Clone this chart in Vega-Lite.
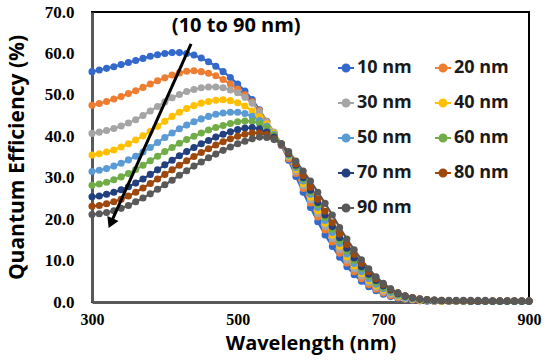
{
  "$schema": "https://vega.github.io/schema/vega-lite/v6.json",
  "width": 437,
  "height": 290,
  "autosize": {"type": "none"},
  "padding": {"left": 92, "top": 12, "right": 21, "bottom": 58},
  "background": "white",
  "config": {
    "view": {"stroke": "#000000", "strokeWidth": 2},
    "axis": {"grid": false, "ticks": false, "labelFlush": false, "domainColor": "#595959", "domainWidth": 3, "labelColor": "#000000", "titleColor": "#000000"}
  },
  "data": {"values": [
{"t":"10 nm","w":300,"q":55.6},{"t":"10 nm","w":310,"q":56.0},{"t":"10 nm","w":320,"q":56.4},{"t":"10 nm","w":330,"q":56.8},{"t":"10 nm","w":340,"q":57.3},{"t":"10 nm","w":350,"q":57.8},{"t":"10 nm","w":360,"q":58.3},{"t":"10 nm","w":370,"q":58.8},{"t":"10 nm","w":380,"q":59.3},{"t":"10 nm","w":390,"q":59.7},{"t":"10 nm","w":400,"q":60.0},{"t":"10 nm","w":410,"q":60.2},{"t":"10 nm","w":420,"q":60.2},{"t":"10 nm","w":430,"q":60.0},{"t":"10 nm","w":440,"q":59.6},{"t":"10 nm","w":450,"q":58.9},{"t":"10 nm","w":460,"q":58.0},{"t":"10 nm","w":470,"q":56.9},{"t":"10 nm","w":480,"q":55.6},{"t":"10 nm","w":490,"q":54.2},{"t":"10 nm","w":500,"q":52.6},{"t":"10 nm","w":510,"q":50.9},{"t":"10 nm","w":520,"q":48.9},{"t":"10 nm","w":530,"q":46.4},{"t":"10 nm","w":540,"q":43.6},{"t":"10 nm","w":550,"q":40.8},{"t":"10 nm","w":560,"q":37.8},{"t":"10 nm","w":570,"q":34.2},{"t":"10 nm","w":580,"q":30.3},{"t":"10 nm","w":590,"q":26.5},{"t":"10 nm","w":600,"q":22.8},{"t":"10 nm","w":610,"q":19.4},{"t":"10 nm","w":620,"q":16.2},{"t":"10 nm","w":630,"q":13.4},{"t":"10 nm","w":640,"q":10.8},{"t":"10 nm","w":650,"q":8.5},{"t":"10 nm","w":660,"q":6.6},{"t":"10 nm","w":670,"q":5.0},{"t":"10 nm","w":680,"q":3.7},{"t":"10 nm","w":690,"q":2.7},{"t":"10 nm","w":700,"q":1.9},{"t":"10 nm","w":710,"q":1.3},{"t":"10 nm","w":720,"q":0.9},{"t":"10 nm","w":730,"q":0.6},{"t":"10 nm","w":740,"q":0.4},{"t":"10 nm","w":750,"q":0.3},{"t":"10 nm","w":760,"q":0.2},{"t":"10 nm","w":770,"q":0.2},{"t":"10 nm","w":780,"q":0.2},{"t":"10 nm","w":790,"q":0.2},{"t":"10 nm","w":800,"q":0.2},{"t":"10 nm","w":810,"q":0.2},{"t":"10 nm","w":820,"q":0.2},{"t":"10 nm","w":830,"q":0.2},{"t":"10 nm","w":840,"q":0.2},{"t":"10 nm","w":850,"q":0.2},{"t":"10 nm","w":860,"q":0.2},{"t":"10 nm","w":870,"q":0.2},{"t":"10 nm","w":880,"q":0.2},{"t":"10 nm","w":890,"q":0.2},{"t":"10 nm","w":900,"q":0.2},
{"t":"20 nm","w":300,"q":47.5},{"t":"20 nm","w":310,"q":47.9},{"t":"20 nm","w":320,"q":48.4},{"t":"20 nm","w":330,"q":49.0},{"t":"20 nm","w":340,"q":49.6},{"t":"20 nm","w":350,"q":50.3},{"t":"20 nm","w":360,"q":51.0},{"t":"20 nm","w":370,"q":51.8},{"t":"20 nm","w":380,"q":52.6},{"t":"20 nm","w":390,"q":53.4},{"t":"20 nm","w":400,"q":54.1},{"t":"20 nm","w":410,"q":54.8},{"t":"20 nm","w":420,"q":55.3},{"t":"20 nm","w":430,"q":55.7},{"t":"20 nm","w":440,"q":55.8},{"t":"20 nm","w":450,"q":55.6},{"t":"20 nm","w":460,"q":55.2},{"t":"20 nm","w":470,"q":54.6},{"t":"20 nm","w":480,"q":53.7},{"t":"20 nm","w":490,"q":52.6},{"t":"20 nm","w":500,"q":51.4},{"t":"20 nm","w":510,"q":50.0},{"t":"20 nm","w":520,"q":48.3},{"t":"20 nm","w":530,"q":46.2},{"t":"20 nm","w":540,"q":43.6},{"t":"20 nm","w":550,"q":40.8},{"t":"20 nm","w":560,"q":37.9},{"t":"20 nm","w":570,"q":34.6},{"t":"20 nm","w":580,"q":31.0},{"t":"20 nm","w":590,"q":27.4},{"t":"20 nm","w":600,"q":23.9},{"t":"20 nm","w":610,"q":20.5},{"t":"20 nm","w":620,"q":17.4},{"t":"20 nm","w":630,"q":14.5},{"t":"20 nm","w":640,"q":11.8},{"t":"20 nm","w":650,"q":9.4},{"t":"20 nm","w":660,"q":7.3},{"t":"20 nm","w":670,"q":5.6},{"t":"20 nm","w":680,"q":4.2},{"t":"20 nm","w":690,"q":3.1},{"t":"20 nm","w":700,"q":2.2},{"t":"20 nm","w":710,"q":1.5},{"t":"20 nm","w":720,"q":1.0},{"t":"20 nm","w":730,"q":0.7},{"t":"20 nm","w":740,"q":0.5},{"t":"20 nm","w":750,"q":0.3},{"t":"20 nm","w":760,"q":0.3},{"t":"20 nm","w":770,"q":0.2},{"t":"20 nm","w":780,"q":0.2},{"t":"20 nm","w":790,"q":0.2},{"t":"20 nm","w":800,"q":0.2},{"t":"20 nm","w":810,"q":0.2},{"t":"20 nm","w":820,"q":0.2},{"t":"20 nm","w":830,"q":0.2},{"t":"20 nm","w":840,"q":0.2},{"t":"20 nm","w":850,"q":0.2},{"t":"20 nm","w":860,"q":0.2},{"t":"20 nm","w":870,"q":0.2},{"t":"20 nm","w":880,"q":0.2},{"t":"20 nm","w":890,"q":0.2},{"t":"20 nm","w":900,"q":0.2},
{"t":"30 nm","w":300,"q":40.7},{"t":"30 nm","w":310,"q":41.0},{"t":"30 nm","w":320,"q":41.4},{"t":"30 nm","w":330,"q":41.9},{"t":"30 nm","w":340,"q":42.5},{"t":"30 nm","w":350,"q":43.2},{"t":"30 nm","w":360,"q":44.0},{"t":"30 nm","w":370,"q":45.0},{"t":"30 nm","w":380,"q":46.1},{"t":"30 nm","w":390,"q":47.2},{"t":"30 nm","w":400,"q":48.3},{"t":"30 nm","w":410,"q":49.3},{"t":"30 nm","w":420,"q":50.1},{"t":"30 nm","w":430,"q":50.8},{"t":"30 nm","w":440,"q":51.3},{"t":"30 nm","w":450,"q":51.7},{"t":"30 nm","w":460,"q":51.9},{"t":"30 nm","w":470,"q":51.9},{"t":"30 nm","w":480,"q":51.7},{"t":"30 nm","w":490,"q":51.2},{"t":"30 nm","w":500,"q":50.5},{"t":"30 nm","w":510,"q":49.4},{"t":"30 nm","w":520,"q":48.0},{"t":"30 nm","w":530,"q":45.9},{"t":"30 nm","w":540,"q":43.5},{"t":"30 nm","w":550,"q":41.0},{"t":"30 nm","w":560,"q":38.2},{"t":"30 nm","w":570,"q":35.0},{"t":"30 nm","w":580,"q":31.5},{"t":"30 nm","w":590,"q":28.0},{"t":"30 nm","w":600,"q":24.6},{"t":"30 nm","w":610,"q":21.3},{"t":"30 nm","w":620,"q":18.2},{"t":"30 nm","w":630,"q":15.3},{"t":"30 nm","w":640,"q":12.6},{"t":"30 nm","w":650,"q":10.1},{"t":"30 nm","w":660,"q":8.0},{"t":"30 nm","w":670,"q":6.2},{"t":"30 nm","w":680,"q":4.7},{"t":"30 nm","w":690,"q":3.5},{"t":"30 nm","w":700,"q":2.5},{"t":"30 nm","w":710,"q":1.8},{"t":"30 nm","w":720,"q":1.2},{"t":"30 nm","w":730,"q":0.8},{"t":"30 nm","w":740,"q":0.6},{"t":"30 nm","w":750,"q":0.4},{"t":"30 nm","w":760,"q":0.3},{"t":"30 nm","w":770,"q":0.2},{"t":"30 nm","w":780,"q":0.2},{"t":"30 nm","w":790,"q":0.2},{"t":"30 nm","w":800,"q":0.2},{"t":"30 nm","w":810,"q":0.2},{"t":"30 nm","w":820,"q":0.2},{"t":"30 nm","w":830,"q":0.2},{"t":"30 nm","w":840,"q":0.2},{"t":"30 nm","w":850,"q":0.2},{"t":"30 nm","w":860,"q":0.2},{"t":"30 nm","w":870,"q":0.2},{"t":"30 nm","w":880,"q":0.2},{"t":"30 nm","w":890,"q":0.2},{"t":"30 nm","w":900,"q":0.2},
{"t":"40 nm","w":300,"q":35.5},{"t":"40 nm","w":310,"q":35.8},{"t":"40 nm","w":320,"q":36.2},{"t":"40 nm","w":330,"q":36.7},{"t":"40 nm","w":340,"q":37.4},{"t":"40 nm","w":350,"q":38.2},{"t":"40 nm","w":360,"q":39.1},{"t":"40 nm","w":370,"q":40.1},{"t":"40 nm","w":380,"q":41.2},{"t":"40 nm","w":390,"q":42.4},{"t":"40 nm","w":400,"q":43.6},{"t":"40 nm","w":410,"q":44.8},{"t":"40 nm","w":420,"q":45.8},{"t":"40 nm","w":430,"q":46.7},{"t":"40 nm","w":440,"q":47.4},{"t":"40 nm","w":450,"q":48.0},{"t":"40 nm","w":460,"q":48.4},{"t":"40 nm","w":470,"q":48.7},{"t":"40 nm","w":480,"q":48.8},{"t":"40 nm","w":490,"q":48.6},{"t":"40 nm","w":500,"q":48.1},{"t":"40 nm","w":510,"q":47.3},{"t":"40 nm","w":520,"q":46.1},{"t":"40 nm","w":530,"q":44.7},{"t":"40 nm","w":540,"q":43.0},{"t":"40 nm","w":550,"q":40.8},{"t":"40 nm","w":560,"q":38.2},{"t":"40 nm","w":570,"q":35.2},{"t":"40 nm","w":580,"q":32.0},{"t":"40 nm","w":590,"q":28.6},{"t":"40 nm","w":600,"q":25.3},{"t":"40 nm","w":610,"q":22.0},{"t":"40 nm","w":620,"q":19.0},{"t":"40 nm","w":630,"q":16.1},{"t":"40 nm","w":640,"q":13.4},{"t":"40 nm","w":650,"q":10.9},{"t":"40 nm","w":660,"q":8.7},{"t":"40 nm","w":670,"q":6.8},{"t":"40 nm","w":680,"q":5.2},{"t":"40 nm","w":690,"q":3.9},{"t":"40 nm","w":700,"q":2.9},{"t":"40 nm","w":710,"q":2.1},{"t":"40 nm","w":720,"q":1.4},{"t":"40 nm","w":730,"q":1.0},{"t":"40 nm","w":740,"q":0.7},{"t":"40 nm","w":750,"q":0.5},{"t":"40 nm","w":760,"q":0.4},{"t":"40 nm","w":770,"q":0.3},{"t":"40 nm","w":780,"q":0.2},{"t":"40 nm","w":790,"q":0.2},{"t":"40 nm","w":800,"q":0.2},{"t":"40 nm","w":810,"q":0.2},{"t":"40 nm","w":820,"q":0.2},{"t":"40 nm","w":830,"q":0.2},{"t":"40 nm","w":840,"q":0.2},{"t":"40 nm","w":850,"q":0.2},{"t":"40 nm","w":860,"q":0.2},{"t":"40 nm","w":870,"q":0.2},{"t":"40 nm","w":880,"q":0.2},{"t":"40 nm","w":890,"q":0.2},{"t":"40 nm","w":900,"q":0.2},
{"t":"50 nm","w":300,"q":31.5},{"t":"50 nm","w":310,"q":31.8},{"t":"50 nm","w":320,"q":32.2},{"t":"50 nm","w":330,"q":32.8},{"t":"50 nm","w":340,"q":33.5},{"t":"50 nm","w":350,"q":34.3},{"t":"50 nm","w":360,"q":35.2},{"t":"50 nm","w":370,"q":36.2},{"t":"50 nm","w":380,"q":37.3},{"t":"50 nm","w":390,"q":38.5},{"t":"50 nm","w":400,"q":39.7},{"t":"50 nm","w":410,"q":40.8},{"t":"50 nm","w":420,"q":41.8},{"t":"50 nm","w":430,"q":42.7},{"t":"50 nm","w":440,"q":43.5},{"t":"50 nm","w":450,"q":44.2},{"t":"50 nm","w":460,"q":44.8},{"t":"50 nm","w":470,"q":45.3},{"t":"50 nm","w":480,"q":45.6},{"t":"50 nm","w":490,"q":45.8},{"t":"50 nm","w":500,"q":45.8},{"t":"50 nm","w":510,"q":45.5},{"t":"50 nm","w":520,"q":44.8},{"t":"50 nm","w":530,"q":43.8},{"t":"50 nm","w":540,"q":42.4},{"t":"50 nm","w":550,"q":40.5},{"t":"50 nm","w":560,"q":38.1},{"t":"50 nm","w":570,"q":35.4},{"t":"50 nm","w":580,"q":32.4},{"t":"50 nm","w":590,"q":29.2},{"t":"50 nm","w":600,"q":26.0},{"t":"50 nm","w":610,"q":22.8},{"t":"50 nm","w":620,"q":19.7},{"t":"50 nm","w":630,"q":16.8},{"t":"50 nm","w":640,"q":14.1},{"t":"50 nm","w":650,"q":11.6},{"t":"50 nm","w":660,"q":9.3},{"t":"50 nm","w":670,"q":7.3},{"t":"50 nm","w":680,"q":5.6},{"t":"50 nm","w":690,"q":4.3},{"t":"50 nm","w":700,"q":3.2},{"t":"50 nm","w":710,"q":2.3},{"t":"50 nm","w":720,"q":1.6},{"t":"50 nm","w":730,"q":1.1},{"t":"50 nm","w":740,"q":0.8},{"t":"50 nm","w":750,"q":0.6},{"t":"50 nm","w":760,"q":0.4},{"t":"50 nm","w":770,"q":0.3},{"t":"50 nm","w":780,"q":0.3},{"t":"50 nm","w":790,"q":0.2},{"t":"50 nm","w":800,"q":0.2},{"t":"50 nm","w":810,"q":0.2},{"t":"50 nm","w":820,"q":0.2},{"t":"50 nm","w":830,"q":0.2},{"t":"50 nm","w":840,"q":0.2},{"t":"50 nm","w":850,"q":0.2},{"t":"50 nm","w":860,"q":0.2},{"t":"50 nm","w":870,"q":0.2},{"t":"50 nm","w":880,"q":0.2},{"t":"50 nm","w":890,"q":0.2},{"t":"50 nm","w":900,"q":0.2},
{"t":"60 nm","w":300,"q":28.2},{"t":"60 nm","w":310,"q":28.5},{"t":"60 nm","w":320,"q":28.9},{"t":"60 nm","w":330,"q":29.5},{"t":"60 nm","w":340,"q":30.2},{"t":"60 nm","w":350,"q":31.0},{"t":"60 nm","w":360,"q":32.0},{"t":"60 nm","w":370,"q":33.0},{"t":"60 nm","w":380,"q":34.1},{"t":"60 nm","w":390,"q":35.2},{"t":"60 nm","w":400,"q":36.3},{"t":"60 nm","w":410,"q":37.3},{"t":"60 nm","w":420,"q":38.3},{"t":"60 nm","w":430,"q":39.2},{"t":"60 nm","w":440,"q":40.0},{"t":"60 nm","w":450,"q":40.8},{"t":"60 nm","w":460,"q":41.5},{"t":"60 nm","w":470,"q":42.1},{"t":"60 nm","w":480,"q":42.6},{"t":"60 nm","w":490,"q":43.1},{"t":"60 nm","w":500,"q":43.5},{"t":"60 nm","w":510,"q":43.7},{"t":"60 nm","w":520,"q":43.6},{"t":"60 nm","w":530,"q":43.1},{"t":"60 nm","w":540,"q":42.0},{"t":"60 nm","w":550,"q":40.3},{"t":"60 nm","w":560,"q":38.2},{"t":"60 nm","w":570,"q":35.6},{"t":"60 nm","w":580,"q":32.7},{"t":"60 nm","w":590,"q":29.6},{"t":"60 nm","w":600,"q":26.5},{"t":"60 nm","w":610,"q":23.4},{"t":"60 nm","w":620,"q":20.4},{"t":"60 nm","w":630,"q":17.5},{"t":"60 nm","w":640,"q":14.8},{"t":"60 nm","w":650,"q":12.3},{"t":"60 nm","w":660,"q":10.0},{"t":"60 nm","w":670,"q":8.0},{"t":"60 nm","w":680,"q":6.2},{"t":"60 nm","w":690,"q":4.7},{"t":"60 nm","w":700,"q":3.5},{"t":"60 nm","w":710,"q":2.6},{"t":"60 nm","w":720,"q":1.8},{"t":"60 nm","w":730,"q":1.3},{"t":"60 nm","w":740,"q":0.9},{"t":"60 nm","w":750,"q":0.6},{"t":"60 nm","w":760,"q":0.5},{"t":"60 nm","w":770,"q":0.4},{"t":"60 nm","w":780,"q":0.3},{"t":"60 nm","w":790,"q":0.3},{"t":"60 nm","w":800,"q":0.3},{"t":"60 nm","w":810,"q":0.2},{"t":"60 nm","w":820,"q":0.2},{"t":"60 nm","w":830,"q":0.2},{"t":"60 nm","w":840,"q":0.2},{"t":"60 nm","w":850,"q":0.2},{"t":"60 nm","w":860,"q":0.2},{"t":"60 nm","w":870,"q":0.2},{"t":"60 nm","w":880,"q":0.2},{"t":"60 nm","w":890,"q":0.2},{"t":"60 nm","w":900,"q":0.2},
{"t":"70 nm","w":300,"q":25.4},{"t":"70 nm","w":310,"q":25.6},{"t":"70 nm","w":320,"q":26.0},{"t":"70 nm","w":330,"q":26.5},{"t":"70 nm","w":340,"q":27.1},{"t":"70 nm","w":350,"q":27.8},{"t":"70 nm","w":360,"q":28.7},{"t":"70 nm","w":370,"q":29.7},{"t":"70 nm","w":380,"q":30.8},{"t":"70 nm","w":390,"q":31.9},{"t":"70 nm","w":400,"q":33.1},{"t":"70 nm","w":410,"q":34.2},{"t":"70 nm","w":420,"q":35.3},{"t":"70 nm","w":430,"q":36.3},{"t":"70 nm","w":440,"q":37.3},{"t":"70 nm","w":450,"q":38.2},{"t":"70 nm","w":460,"q":39.0},{"t":"70 nm","w":470,"q":39.8},{"t":"70 nm","w":480,"q":40.5},{"t":"70 nm","w":490,"q":41.1},{"t":"70 nm","w":500,"q":41.6},{"t":"70 nm","w":510,"q":42.0},{"t":"70 nm","w":520,"q":42.1},{"t":"70 nm","w":530,"q":41.8},{"t":"70 nm","w":540,"q":41.0},{"t":"70 nm","w":550,"q":39.8},{"t":"70 nm","w":560,"q":38.1},{"t":"70 nm","w":570,"q":35.8},{"t":"70 nm","w":580,"q":33.0},{"t":"70 nm","w":590,"q":30.0},{"t":"70 nm","w":600,"q":27.0},{"t":"70 nm","w":610,"q":24.0},{"t":"70 nm","w":620,"q":21.0},{"t":"70 nm","w":630,"q":18.2},{"t":"70 nm","w":640,"q":15.5},{"t":"70 nm","w":650,"q":13.0},{"t":"70 nm","w":660,"q":10.6},{"t":"70 nm","w":670,"q":8.5},{"t":"70 nm","w":680,"q":6.7},{"t":"70 nm","w":690,"q":5.2},{"t":"70 nm","w":700,"q":3.9},{"t":"70 nm","w":710,"q":2.9},{"t":"70 nm","w":720,"q":2.0},{"t":"70 nm","w":730,"q":1.4},{"t":"70 nm","w":740,"q":1.0},{"t":"70 nm","w":750,"q":0.7},{"t":"70 nm","w":760,"q":0.5},{"t":"70 nm","w":770,"q":0.4},{"t":"70 nm","w":780,"q":0.3},{"t":"70 nm","w":790,"q":0.3},{"t":"70 nm","w":800,"q":0.3},{"t":"70 nm","w":810,"q":0.3},{"t":"70 nm","w":820,"q":0.2},{"t":"70 nm","w":830,"q":0.2},{"t":"70 nm","w":840,"q":0.2},{"t":"70 nm","w":850,"q":0.2},{"t":"70 nm","w":860,"q":0.2},{"t":"70 nm","w":870,"q":0.2},{"t":"70 nm","w":880,"q":0.2},{"t":"70 nm","w":890,"q":0.2},{"t":"70 nm","w":900,"q":0.2},
{"t":"80 nm","w":300,"q":23.1},{"t":"80 nm","w":310,"q":23.3},{"t":"80 nm","w":320,"q":23.7},{"t":"80 nm","w":330,"q":24.2},{"t":"80 nm","w":340,"q":24.8},{"t":"80 nm","w":350,"q":25.6},{"t":"80 nm","w":360,"q":26.5},{"t":"80 nm","w":370,"q":27.5},{"t":"80 nm","w":380,"q":28.6},{"t":"80 nm","w":390,"q":29.7},{"t":"80 nm","w":400,"q":30.8},{"t":"80 nm","w":410,"q":31.9},{"t":"80 nm","w":420,"q":33.0},{"t":"80 nm","w":430,"q":34.1},{"t":"80 nm","w":440,"q":35.1},{"t":"80 nm","w":450,"q":36.1},{"t":"80 nm","w":460,"q":37.0},{"t":"80 nm","w":470,"q":37.9},{"t":"80 nm","w":480,"q":38.7},{"t":"80 nm","w":490,"q":39.4},{"t":"80 nm","w":500,"q":40.0},{"t":"80 nm","w":510,"q":40.5},{"t":"80 nm","w":520,"q":40.8},{"t":"80 nm","w":530,"q":40.8},{"t":"80 nm","w":540,"q":40.4},{"t":"80 nm","w":550,"q":39.4},{"t":"80 nm","w":560,"q":38.1},{"t":"80 nm","w":570,"q":36.0},{"t":"80 nm","w":580,"q":33.3},{"t":"80 nm","w":590,"q":30.5},{"t":"80 nm","w":600,"q":27.7},{"t":"80 nm","w":610,"q":24.8},{"t":"80 nm","w":620,"q":21.9},{"t":"80 nm","w":630,"q":19.1},{"t":"80 nm","w":640,"q":16.4},{"t":"80 nm","w":650,"q":13.9},{"t":"80 nm","w":660,"q":11.5},{"t":"80 nm","w":670,"q":9.3},{"t":"80 nm","w":680,"q":7.3},{"t":"80 nm","w":690,"q":5.6},{"t":"80 nm","w":700,"q":4.2},{"t":"80 nm","w":710,"q":3.1},{"t":"80 nm","w":720,"q":2.2},{"t":"80 nm","w":730,"q":1.5},{"t":"80 nm","w":740,"q":1.1},{"t":"80 nm","w":750,"q":0.8},{"t":"80 nm","w":760,"q":0.6},{"t":"80 nm","w":770,"q":0.5},{"t":"80 nm","w":780,"q":0.4},{"t":"80 nm","w":790,"q":0.3},{"t":"80 nm","w":800,"q":0.3},{"t":"80 nm","w":810,"q":0.3},{"t":"80 nm","w":820,"q":0.3},{"t":"80 nm","w":830,"q":0.3},{"t":"80 nm","w":840,"q":0.3},{"t":"80 nm","w":850,"q":0.3},{"t":"80 nm","w":860,"q":0.3},{"t":"80 nm","w":870,"q":0.3},{"t":"80 nm","w":880,"q":0.3},{"t":"80 nm","w":890,"q":0.3},{"t":"80 nm","w":900,"q":0.3},
{"t":"90 nm","w":300,"q":21.1},{"t":"90 nm","w":310,"q":21.3},{"t":"90 nm","w":320,"q":21.6},{"t":"90 nm","w":330,"q":22.0},{"t":"90 nm","w":340,"q":22.6},{"t":"90 nm","w":350,"q":23.3},{"t":"90 nm","w":360,"q":24.2},{"t":"90 nm","w":370,"q":25.1},{"t":"90 nm","w":380,"q":26.1},{"t":"90 nm","w":390,"q":27.2},{"t":"90 nm","w":400,"q":28.3},{"t":"90 nm","w":410,"q":29.4},{"t":"90 nm","w":420,"q":30.6},{"t":"90 nm","w":430,"q":31.7},{"t":"90 nm","w":440,"q":32.8},{"t":"90 nm","w":450,"q":33.8},{"t":"90 nm","w":460,"q":34.8},{"t":"90 nm","w":470,"q":35.7},{"t":"90 nm","w":480,"q":36.6},{"t":"90 nm","w":490,"q":37.4},{"t":"90 nm","w":500,"q":38.2},{"t":"90 nm","w":510,"q":38.8},{"t":"90 nm","w":520,"q":39.4},{"t":"90 nm","w":530,"q":39.8},{"t":"90 nm","w":540,"q":39.7},{"t":"90 nm","w":550,"q":39.2},{"t":"90 nm","w":560,"q":38.2},{"t":"90 nm","w":570,"q":36.3},{"t":"90 nm","w":580,"q":34.0},{"t":"90 nm","w":590,"q":31.6},{"t":"90 nm","w":600,"q":29.2},{"t":"90 nm","w":610,"q":26.5},{"t":"90 nm","w":620,"q":23.8},{"t":"90 nm","w":630,"q":21.0},{"t":"90 nm","w":640,"q":18.0},{"t":"90 nm","w":650,"q":15.2},{"t":"90 nm","w":660,"q":12.6},{"t":"90 nm","w":670,"q":10.2},{"t":"90 nm","w":680,"q":8.0},{"t":"90 nm","w":690,"q":6.1},{"t":"90 nm","w":700,"q":4.5},{"t":"90 nm","w":710,"q":3.2},{"t":"90 nm","w":720,"q":2.2},{"t":"90 nm","w":730,"q":1.5},{"t":"90 nm","w":740,"q":1.0},{"t":"90 nm","w":750,"q":0.7},{"t":"90 nm","w":760,"q":0.6},{"t":"90 nm","w":770,"q":0.5},{"t":"90 nm","w":780,"q":0.4},{"t":"90 nm","w":790,"q":0.4},{"t":"90 nm","w":800,"q":0.4},{"t":"90 nm","w":810,"q":0.4},{"t":"90 nm","w":820,"q":0.4},{"t":"90 nm","w":830,"q":0.4},{"t":"90 nm","w":840,"q":0.4},{"t":"90 nm","w":850,"q":0.3},{"t":"90 nm","w":860,"q":0.3},{"t":"90 nm","w":870,"q":0.3},{"t":"90 nm","w":880,"q":0.3},{"t":"90 nm","w":890,"q":0.3},{"t":"90 nm","w":900,"q":0.3}
  ]},
  "layer": [
    {
      "mark": {"type": "line", "strokeWidth": 2.25, "point": {"filled": true, "size": 50, "opacity": 1}},
      "encoding": {
        "x": {"field": "w", "type": "quantitative", "scale": {"domain": [300, 900], "nice": false},
              "axis": {"values": [300, 500, 700, 900], "title": "Wavelength (nm)", "labelFont": "Liberation Serif", "labelFontWeight": "bold", "labelFontSize": 16, "labelPadding": 9,
                       "titleFont": "Open Sans", "titleFontWeight": "bold", "titleFontSize": 20, "titlePadding": 6}},
        "y": {"field": "q", "type": "quantitative", "scale": {"domain": [0, 70], "nice": false},
              "axis": {"values": [0, 10, 20, 30, 40, 50, 60, 70], "format": ".1f", "title": "Quantum Efficiency (%)", "labelFont": "Liberation Serif", "labelFontWeight": "bold", "labelFontSize": 17, "labelPadding": 18,
                       "titleFont": "Open Sans", "titleFontWeight": "bold", "titleFontSize": 21, "titlePadding": 17}},
        "color": {"field": "t", "type": "nominal",
                  "scale": {"domain": ["10 nm","20 nm","30 nm","40 nm","50 nm","60 nm","70 nm","80 nm","90 nm"],
                            "range": ["#3469CC","#ED7D31","#A5A5A5","#FFC000","#5B9BD5","#70AD47","#223F7E","#9E480E","#595959"]},
                  "legend": {"title": null, "orient": "none", "direction": "horizontal", "legendX": 245, "legendY": 47, "columns": 2, "columnPadding": 19, "rowPadding": 17, "padding": 0,
                             "symbolType": "M-1,0L1,0M0.44,0A0.44,0.44,0,1,1,-0.44,0A0.44,0.44,0,1,1,0.44,0Z", "symbolSize": 256, "symbolStrokeWidth": 2,
                             "labelFont": "Open Sans", "labelFontWeight": "bold", "labelFontSize": 18, "labelColor": "#1a1a1a", "labelOffset": 2,
                             "encode": {"symbols": {"update": {"fill": {"scale": "color", "field": "value"}, "stroke": {"scale": "color", "field": "value"}, "opacity": {"value": 1}}}}}}
      }
    },
    {
      "data": {"values": [{}]},
      "mark": {"type": "rule", "color": "black", "strokeWidth": 3},
      "encoding": {"x": {"datum": 436}, "y": {"datum": 62.3}, "x2": {"datum": 326.8}, "y2": {"datum": 19.4}}
    },
    {
      "data": {"values": [{}]},
      "mark": {"type": "point", "shape": "triangle", "filled": true, "color": "black", "size": 150, "angle": 204, "opacity": 1},
      "encoding": {"x": {"datum": 326.8}, "y": {"datum": 19.4}}
    },
    {
      "data": {"values": [{}]},
      "mark": {"type": "text", "text": "(10 to 90 nm)", "font": "Open Sans", "fontWeight": "bold", "fontSize": 20, "color": "black", "align": "center", "baseline": "middle"},
      "encoding": {"x": {"datum": 498}, "y": {"datum": 66.6}}
    }
  ]
}
